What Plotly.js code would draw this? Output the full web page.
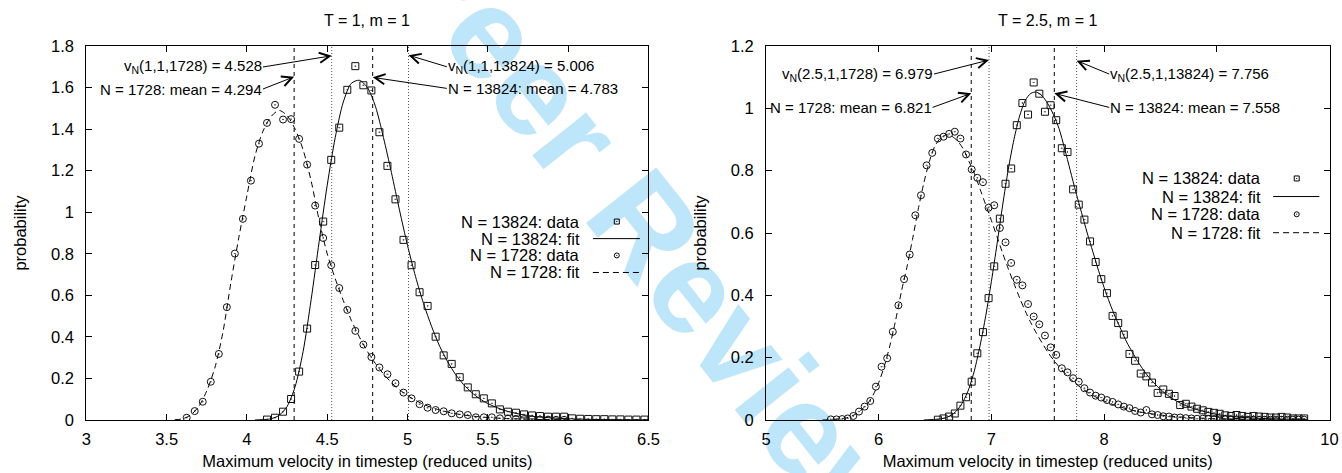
<!DOCTYPE html>
<html>
<head>
<meta charset="utf-8">
<script src="https://cdn.plot.ly/plotly-3.0.1.min.js"></script>
<style>
  html, body { margin:0; padding:0; background:#fff; }
  #wrap { position:relative; width:1342px; height:473px; overflow:hidden; }
  #wm { position:absolute; left:580px; top:143px; transform:translate(-50%,-50%) rotate(51.5deg);
        font-family:'Liberation Sans', Arial, sans-serif; font-weight:bold; font-size:130px;
        color:rgb(190,230,250); white-space:nowrap; z-index:0; line-height:1; }
  #chart { position:absolute; left:0; top:0; width:1342px; height:473px; z-index:1; }
</style>
</head>
<body>
<div id="wrap">
  <div id="wm">For Peer Review</div>
  <div id="chart"></div>
</div>
<script>
// ---------------- Panel 1: T = 1, m = 1 ----------------
const L1728_x = [3.625,3.675,3.725,3.775,3.825,3.875,3.925,3.975,4.025,4.075,4.125,4.175,4.225,4.275,4.325,4.375,4.425,4.475,4.525,4.575,4.625,4.675,4.725,4.775,4.825,4.875,4.925,4.975,5.025,5.075,5.125,5.175,5.225,5.275,5.325,5.375,5.425,5.475,5.525,5.575,5.625,5.675,5.725,5.775,5.825,5.875,5.925,5.975];
const L1728_p = [0.011,0.043,0.088,0.184,0.318,0.543,0.801,0.968,1.152,1.330,1.430,1.517,1.446,1.448,1.353,1.229,1.032,0.876,0.745,0.635,0.530,0.429,0.363,0.303,0.253,0.220,0.177,0.132,0.104,0.076,0.059,0.048,0.042,0.032,0.027,0.024,0.013,0.013,0.013,0.008,0.006,0.005,0.004,0.003,0.002,0.002,0.001,0.001];

const L13824_x = [4.125,4.175,4.225,4.275,4.325,4.375,4.425,4.475,4.525,4.575,4.625,4.675,4.725,4.775,4.825,4.875,4.925,4.975,5.025,5.075,5.125,5.175,5.225,5.275,5.325,5.375,5.425,5.475,5.525,5.575,5.625,5.675,5.725,5.775,5.825,5.875,5.925,5.975,6.025,6.075,6.125,6.175,6.225,6.275,6.325,6.375,6.425,6.475];
const L13824_p = [0.002,0.011,0.040,0.101,0.233,0.440,0.746,0.955,1.252,1.407,1.589,1.703,1.611,1.586,1.385,1.223,1.062,0.867,0.745,0.615,0.549,0.401,0.311,0.270,0.206,0.157,0.124,0.104,0.080,0.051,0.040,0.035,0.027,0.022,0.019,0.016,0.016,0.016,0.008,0.006,0.005,0.004,0.004,0.003,0.003,0.002,0.002,0.002];

const L13824_fit_x = [4.05,4.1,4.15,4.2,4.25,4.3,4.35,4.4,4.45,4.5,4.55,4.6,4.65,4.7,4.75,4.8,4.85,4.9,4.95,5.0,5.05,5.1,5.15,5.2,5.25,5.3,5.35,5.4,5.45,5.5,5.6,5.7,5.8,5.9,6.0,6.2,6.5];
const L13824_fit_p = [0.000,0.002,0.006,0.022,0.065,0.160,0.330,0.580,0.860,1.130,1.360,1.530,1.620,1.635,1.600,1.510,1.360,1.190,1.010,0.840,0.690,0.560,0.450,0.355,0.280,0.218,0.170,0.132,0.102,0.079,0.047,0.028,0.016,0.010,0.006,0.002,0.0005];

const L1728_fit_x = [3.55,3.6,3.65,3.7,3.75,3.8,3.85,3.9,3.95,4.0,4.05,4.1,4.15,4.2,4.25,4.3,4.35,4.4,4.45,4.5,4.55,4.6,4.65,4.7,4.75,4.8,4.85,4.9,4.95,5.0,5.1,5.2,5.3,5.4,5.5,5.6,5.8,6.0,6.5];
const L1728_fit_p = [0.001,0.006,0.024,0.065,0.140,0.250,0.420,0.660,0.880,1.080,1.270,1.390,1.460,1.490,1.465,1.400,1.300,1.150,0.960,0.800,0.680,0.575,0.480,0.400,0.330,0.272,0.222,0.180,0.146,0.117,0.075,0.048,0.030,0.019,0.012,0.0075,0.003,0.0012,0.0001];

const meansL = [4.294, 4.783];
const vnL = [4.528, 5.006];

// ---------------- Panel 2: T = 2.5, m = 1 ----------------
const R1728_x = [5.575,5.625,5.675,5.725,5.775,5.825,5.875,5.925,5.975,6.025,6.075,6.125,6.175,6.225,6.275,6.325,6.375,6.425,6.475,6.525,6.575,6.625,6.675,6.725,6.775,6.825,6.875,6.925,6.975,7.025,7.075,7.125,7.175,7.225,7.275,7.325,7.375,7.425,7.475,7.525,7.575,7.625,7.675,7.725,7.775,7.825,7.875,7.925,7.975,8.025,8.075,8.125,8.175,8.225,8.275,8.325,8.375,8.425,8.475,8.525,8.575,8.625,8.675,8.725,8.775,8.825,8.875,8.925,8.975,9.025,9.075,9.125,9.175,9.225,9.275,9.325,9.375,9.425,9.475,9.525,9.575,9.625,9.675,9.725,9.775];
const R1728_p = [0.002,0.002,0.003,0.005,0.013,0.027,0.043,0.061,0.107,0.171,0.198,0.283,0.368,0.452,0.531,0.657,0.721,0.817,0.857,0.903,0.909,0.918,0.925,0.903,0.852,0.804,0.777,0.763,0.681,0.689,0.616,0.570,0.504,0.450,0.432,0.372,0.332,0.307,0.271,0.233,0.209,0.166,0.153,0.134,0.123,0.102,0.088,0.078,0.072,0.064,0.058,0.050,0.043,0.038,0.029,0.024,0.032,0.018,0.016,0.012,0.011,0.008,0.008,0.006,0.005,0.004,0.004,0.003,0.003,0.002,0.002,0.002,0.002,0.001,0.001,0.001,0.001,0.001,0.001,0.001,0.001,0.001,0.001,0.001,0.001];

const R13824_x = [6.525,6.575,6.625,6.675,6.725,6.775,6.825,6.875,6.925,6.975,7.025,7.075,7.125,7.175,7.225,7.275,7.325,7.375,7.425,7.475,7.525,7.575,7.625,7.675,7.725,7.775,7.825,7.875,7.925,7.975,8.025,8.075,8.125,8.175,8.225,8.275,8.325,8.375,8.425,8.475,8.525,8.575,8.625,8.675,8.725,8.775,8.825,8.875,8.925,8.975,9.025,9.075,9.125,9.175,9.225,9.275,9.325,9.375,9.425,9.475,9.525,9.575,9.625,9.675,9.725,9.775];
const R13824_p = [0.001,0.005,0.011,0.021,0.046,0.073,0.123,0.214,0.282,0.391,0.493,0.646,0.758,0.807,0.946,1.017,0.980,1.083,1.047,0.989,1.010,0.962,0.872,0.860,0.740,0.691,0.643,0.573,0.507,0.452,0.407,0.334,0.311,0.274,0.212,0.190,0.149,0.140,0.120,0.087,0.098,0.084,0.077,0.048,0.052,0.043,0.036,0.031,0.026,0.023,0.020,0.015,0.013,0.016,0.013,0.010,0.013,0.011,0.010,0.008,0.008,0.010,0.008,0.005,0.005,0.005];

const R13824_fit_x = [6.4,6.5,6.55,6.6,6.65,6.7,6.75,6.8,6.85,6.9,6.95,7.0,7.05,7.1,7.15,7.2,7.25,7.3,7.35,7.4,7.45,7.5,7.55,7.6,7.65,7.7,7.75,7.8,7.85,7.9,7.95,8.0,8.05,8.1,8.15,8.2,8.25,8.3,8.35,8.4,8.45,8.5,8.6,8.7,8.8,8.9,9.0,9.2,9.4,9.6,9.8];
const R13824_fit_p = [0.000,0.002,0.004,0.008,0.017,0.033,0.060,0.100,0.160,0.240,0.335,0.445,0.565,0.690,0.805,0.900,0.975,1.025,1.048,1.052,1.040,1.015,0.980,0.935,0.870,0.800,0.730,0.665,0.600,0.540,0.480,0.425,0.375,0.330,0.290,0.250,0.218,0.187,0.160,0.136,0.116,0.098,0.070,0.050,0.036,0.026,0.018,0.009,0.005,0.003,0.002];

const R1728_fit_x = [5.5,5.6,5.65,5.7,5.75,5.8,5.85,5.9,5.95,6.0,6.05,6.1,6.15,6.2,6.25,6.3,6.35,6.4,6.45,6.5,6.55,6.6,6.65,6.7,6.75,6.8,6.85,6.9,6.95,7.0,7.05,7.1,7.15,7.2,7.25,7.3,7.35,7.4,7.45,7.5,7.55,7.6,7.7,7.8,7.9,8.0,8.1,8.2,8.3,8.4,8.5,8.7,9.0,9.4,9.8];
const R1728_fit_p = [0.000,0.002,0.004,0.006,0.011,0.020,0.034,0.052,0.080,0.120,0.173,0.240,0.320,0.410,0.490,0.580,0.675,0.760,0.830,0.880,0.905,0.915,0.910,0.895,0.870,0.830,0.790,0.740,0.690,0.640,0.588,0.535,0.485,0.438,0.392,0.350,0.312,0.278,0.247,0.218,0.193,0.171,0.132,0.102,0.079,0.061,0.047,0.036,0.027,0.021,0.016,0.009,0.004,0.0015,0.0005];

const meansR = [6.821, 7.558];
const vnR = [6.979, 7.756];

// ---------------- labels ----------------
const titles = ['T = 1, m = 1', 'T = 2.5, m = 1'];
const xTitle = 'Maximum velocity in timestep (reduced units)';
const yTitle = 'probability';
const legendLabels = ['N = 13824: data', 'N = 13824: fit', 'N = 1728: data', 'N = 1728: fit'];

const FONT = 'Liberation Sans, Arial, Helvetica, sans-serif';
const INK = '#000';

function fitTrace(x, y, xa, ya, dash, name) {
  return {x:x, y:y, xaxis:xa, yaxis:ya, type:'scatter', mode:'lines', name:name,
          line:{color:INK, width:1, dash:dash, shape:'spline', smoothing:0.8}, hoverinfo:'skip'};
}
function dataTrace(x, y, xa, ya, sym, name) {
  return {x:x, y:y, xaxis:xa, yaxis:ya, type:'scatter', mode:'markers', name:name,
          marker:{symbol:sym, size:7, color:'#111', line:{color:'#111', width:1}}};
}

const traces = [
  fitTrace(L13824_fit_x, L13824_fit_p, 'x', 'y', 'solid', legendLabels[1]),
  fitTrace(L1728_fit_x, L1728_fit_p, 'x', 'y', '6px,4px', legendLabels[3]),
  dataTrace(L13824_x, L13824_p, 'x', 'y', 'square-open-dot', legendLabels[0]),
  dataTrace(L1728_x, L1728_p, 'x', 'y', 'circle-open-dot', legendLabels[2]),
  fitTrace(R13824_fit_x, R13824_fit_p, 'x2', 'y2', 'solid', legendLabels[1]),
  fitTrace(R1728_fit_x, R1728_fit_p, 'x2', 'y2', '6px,4px', legendLabels[3]),
  dataTrace(R13824_x, R13824_p, 'x2', 'y2', 'square-open-dot', legendLabels[0]),
  dataTrace(R1728_x, R1728_p, 'x2', 'y2', 'circle-open-dot', legendLabels[2])
];

// vertical reference lines
const shapes = [];
function vline(v, xa, ya, dotted) {
  shapes.push({type:'line', xref:xa, yref:ya + ' domain', x0:v, x1:v, y0:0, y1:1,
    line:{color: dotted ? '#555' : '#000', width:1, dash: dotted ? '1px,2px' : '4px,4px'}});
}
meansL.forEach(v => vline(v, 'x', 'y', false));
vnL.forEach(v => vline(v, 'x', 'y', true));
meansR.forEach(v => vline(v, 'x2', 'y2', false));
vnR.forEach(v => vline(v, 'x2', 'y2', true));

// custom gnuplot-style key (text right, sample to the right)
function key(xa, ya, xText, xMark, xl0, xl1, rows) {
  const anns = [];
  legendLabels.forEach((t, i) => {
    anns.push({xref:xa, yref:ya, x:xText, y:rows[i], text:t, showarrow:false, xanchor:'right', yanchor:'middle',
               font:{family:FONT, size:16.5, color:INK}});
  });
  shapes.push({type:'rect', xref:xa, yref:ya, xsizemode:'pixel', ysizemode:'pixel', xanchor:xMark, yanchor:rows[0],
               x0:-2.5, x1:2.5, y0:-2.5, y1:2.5, line:{color:INK, width:1}});
  shapes.push({type:'rect', xref:xa, yref:ya, xsizemode:'pixel', ysizemode:'pixel', xanchor:xMark, yanchor:rows[0],
               x0:-0.5, x1:0.5, y0:-0.5, y1:0.5, line:{width:0}, fillcolor:INK});
  shapes.push({type:'line', xref:xa, yref:ya, x0:xl0, x1:xl1, y0:rows[1], y1:rows[1], line:{color:INK, width:1}});
  shapes.push({type:'circle', xref:xa, yref:ya, xsizemode:'pixel', ysizemode:'pixel', xanchor:xMark, yanchor:rows[2],
               x0:-2.5, x1:2.5, y0:-2.5, y1:2.5, line:{color:INK, width:1}});
  shapes.push({type:'rect', xref:xa, yref:ya, xsizemode:'pixel', ysizemode:'pixel', xanchor:xMark, yanchor:rows[2],
               x0:-0.5, x1:0.5, y0:-0.5, y1:0.5, line:{width:0}, fillcolor:INK});
  shapes.push({type:'line', xref:xa, yref:ya, x0:xl0, x1:xl1, y0:rows[3], y1:rows[3], line:{color:INK, width:1, dash:'6px,4px'}});
  return anns;
}

const annotations = [];
annotations.push(...key('x', 'y', 6.086, 6.303, 6.154, 6.447, [0.955, 0.873, 0.792, 0.710]));
annotations.push(...key('x2', 'y2', 9.408, 9.709, 9.499, 9.910, [0.775, 0.717, 0.660, 0.601]));

// labels with arrows: text box anchored at the arrow tail, arrow head on the reference line
function labelArrow(xa, ya, headX, headY, tailX, tailY, anchor, text) {
  annotations.push({xref:xa, yref:ya, x:headX, y:headY, axref:xa, ayref:ya, ax:tailX, ay:tailY,
                    text:text, showarrow:true, xanchor:anchor, yanchor:'middle',
                    arrowhead:5, arrowsize:2, arrowwidth:1, arrowcolor:INK, standoff:0, startstandoff:0,
                    borderpad:0, font:{family:FONT, size:15, color:INK}});
}
labelArrow('x', 'y', vnL[0], 1.753, 4.100, 1.699, 'right', 'v<sub>N</sub>(1,1,1728) = ' + vnL[0].toFixed(3));
labelArrow('x', 'y', meansL[0], 1.652, 4.100, 1.593, 'right', 'N = 1728: mean = ' + meansL[0].toFixed(3));
labelArrow('x', 'y', vnL[1], 1.756, 5.245, 1.700, 'left', 'v<sub>N</sub>(1,1,13824) = ' + vnL[1].toFixed(3));
labelArrow('x', 'y', meansL[1], 1.649, 5.245, 1.596, 'left', 'N = 13824: mean = ' + meansL[1].toFixed(3));

labelArrow('x2', 'y2', vnR[0], 1.155, 6.490, 1.110, 'right', 'v<sub>N</sub>(2.5,1,1728) = ' + vnR[0].toFixed(3));
labelArrow('x2', 'y2', meansR[0], 1.048, 6.478, 1.003, 'right', 'N = 1728: mean = ' + meansR[0].toFixed(3));
labelArrow('x2', 'y2', vnR[1], 1.153, 8.045, 1.110, 'left', 'v<sub>N</sub>(2.5,1,13824) = ' + vnR[1].toFixed(3));
labelArrow('x2', 'y2', meansR[1], 1.048, 8.045, 1.003, 'left', 'N = 13824: mean = ' + meansR[1].toFixed(3));

// panel titles
annotations.push({xref:'x domain', yref:'paper', x:0.5, y:1.0695, text:titles[0], showarrow:false, xanchor:'center', yanchor:'middle', font:{family:FONT, size:16, color:INK}});
annotations.push({xref:'x2 domain', yref:'paper', x:0.5, y:1.0695, text:titles[1], showarrow:false, xanchor:'center', yanchor:'middle', font:{family:FONT, size:16, color:INK}});

function xax(domain, range, dtick, anchor) {
  return {domain:domain, range:range, dtick:dtick, tick0:range[0], anchor:anchor,
    ticks:'inside', ticklen:6, tickwidth:1, tickcolor:INK, showline:true, linecolor:INK, linewidth:1, mirror:'ticks',
    showgrid:false, zeroline:false, ticklabelstandoff:4, tickfont:{family:FONT, size:16.5, color:INK},
    title:{text:xTitle, standoff:8, font:{family:FONT, size:16.5, color:INK}}};
}
function yax(range, anchor) {
  return {domain:[0,1], range:range, dtick:0.2, tick0:0, anchor:anchor,
    ticks:'inside', ticklen:6, tickwidth:1, tickcolor:INK, showline:true, linecolor:INK, linewidth:1, mirror:'ticks',
    showgrid:false, zeroline:false, ticklabelstandoff:8, tickfont:{family:FONT, size:16.5, color:INK},
    title:{text:yTitle, standoff:20, font:{family:FONT, size:16.5, color:INK}}};
}

const layout = {
  width:1342, height:473,
  margin:{l:0, r:0, t:46, b:53, pad:0},
  paper_bgcolor:'rgba(0,0,0,0)', plot_bgcolor:'rgba(0,0,0,0)',
  showlegend:false,
  font:{family:FONT, size:16.5, color:INK},
  xaxis: xax([0.0643, 0.4832], [3, 6.5], 0.5, 'y'),
  yaxis: yax([0, 1.8], 'x'),
  xaxis2: xax([0.5708, 0.9907], [5, 10], 1, 'y2'),
  yaxis2: yax([0, 1.2], 'x2'),
  shapes: shapes,
  annotations: annotations
};

Plotly.newPlot('chart', traces, layout, {staticPlot:true, displayModeBar:false});
</script>
</body>
</html>
